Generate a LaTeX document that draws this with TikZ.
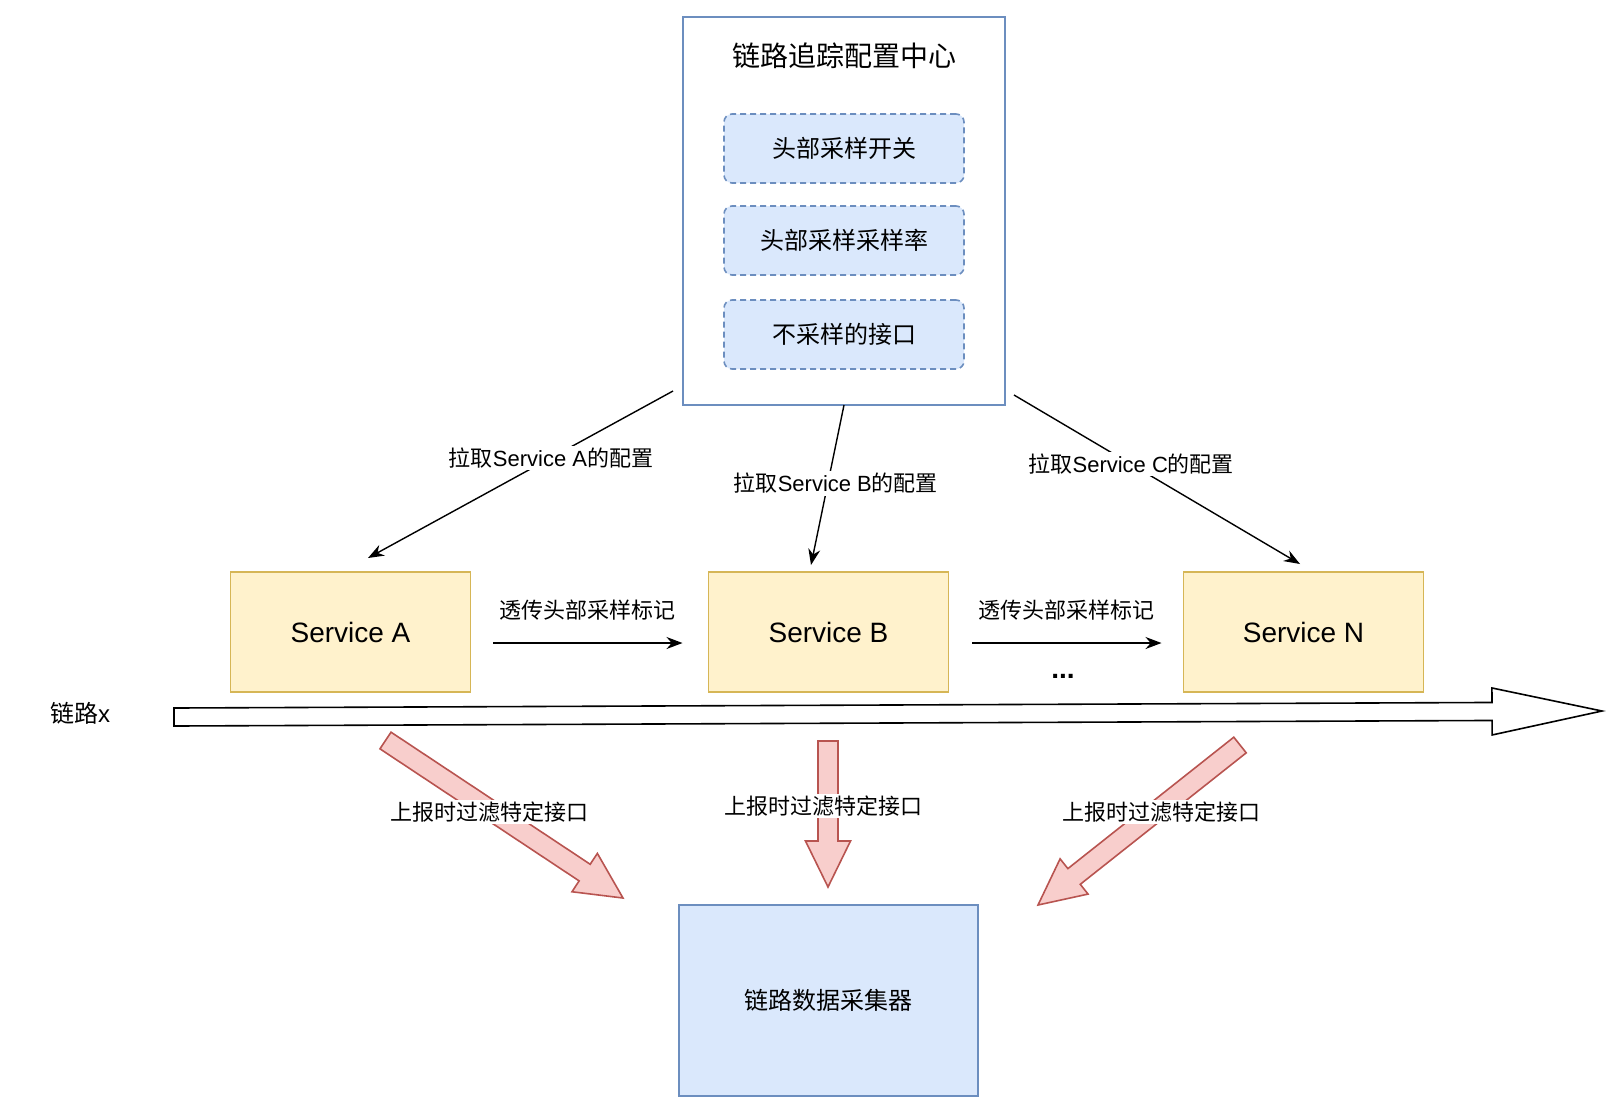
\documentclass[tikz,border=0pt]{standalone}
\usepackage{fontspec}
\setmainfont{Liberation Sans}
\newfontfamily\cjk{Noto Sans CJK SC}
\usetikzlibrary{arrows.meta,calc,positioning}
\definecolor{cfgline}{HTML}{6C8EBF}
\definecolor{cfgfill}{HTML}{DAE8FC}
\definecolor{svcline}{HTML}{D6B656}
\definecolor{svcfill}{HTML}{FFF2CC}
\definecolor{redline}{HTML}{B85450}
\definecolor{redfill}{HTML}{F8CECC}
\tikzset{
    basic/.style   = {draw, rectangle, inner sep=0pt, outer sep=0pt, align=center, line width=0.8pt},
    cfg box/.style = {basic, draw=cfgline, minimum width=161pt, minimum height=194pt},
    opt box/.style = {basic, draw=cfgline, fill=cfgfill, dash pattern=on 3pt off 2pt, rounded corners=4pt,
                      minimum width=120pt, minimum height=34.5pt, font=\fontsize{12}{14}\selectfont},
    svc box/.style = {basic, draw=svcline, fill=svcfill, minimum width=120pt, minimum height=60pt,
                      font=\fontsize{14}{17}\selectfont},
    col box/.style = {basic, draw=cfgline, fill=cfgfill, minimum width=149.5pt, minimum height=95.5pt,
                      font=\fontsize{12}{14}\selectfont},
    lbl/.style     = {fill=white, inner sep=1pt, font=\fontsize{11}{13}\selectfont},
    flow/.style    = {draw=black, fill=white, line width=0.8pt},
    report/.style  = {draw=redline, fill=redfill, line width=0.8pt}
}
% fat arrow: [style] tail, tip, half shaft, half head, head length
\newcommand{\fatarrow}[6][]{%
  \draw[#1] ($(#2)!#4!90:(#3)$)
    -- ($(#3)!#6!(#2)!#4!90:(#3)$)
    -- ($(#3)!#6!(#2)!#5!90:(#3)$)
    -- (#3)
    -- ($(#3)!#6!(#2)!#5!-90:(#3)$)
    -- ($(#3)!#6!(#2)!#4!-90:(#3)$)
    -- ($(#2)!#4!-90:(#3)$) -- cycle;
}

\begin{document}
\begin{tikzpicture}[x=0.5pt, y=-0.5pt, >={Stealth[length=8pt, width=6pt]}, line width=0.7pt]
    \useasboundingbox (0,0) rectangle (1620,1114);

    % config center
    \node[cfg box] (cfg) at (844,211) {};
    \node[font=\fontsize{14}{17}\selectfont] (cfgtitle) at (844,56) {\cjk 链路追踪配置中心};
    \node[opt box] (opt1) at (844,148.5) {\cjk 头部采样开关};
    \node[opt box, below=11.5pt of opt1] (opt2) {\cjk 头部采样采样率};
    \node[opt box, below=12.5pt of opt2] (opt3) {\cjk 不采样的接口};

    % services
    \node[svc box] (svcA) at (350.5,632) {Service A};
    \node[svc box, right=119pt of svcA] (svcB) {Service B};
    \node[svc box, right=117.5pt of svcB] (svcN) {Service N};
    \node[font=\bfseries\fontsize{14}{17}\selectfont] (dots) at (1063,676) {...};

    % collector
    \node[col box] (col) at (828.5,1000.5) {\cjk 链路数据采集器};

    % pull config
    \coordinate (pullA0) at (673,391);
    \coordinate (pullA1) at (368,558);
    \coordinate (pullB1) at (811,565);
    \coordinate (pullN0) at (1014,395);
    \coordinate (pullN1) at (1300,564);
    \draw[->] (pullA0) -- node[lbl, pos=0.4] {{\cjk 拉取}Service A{\cjk 的配置}} (pullA1);
    \draw[->] (cfg.south) -- node[lbl, pos=0.49, xshift=4pt] {{\cjk 拉取}Service B{\cjk 的配置}} (pullB1);
    \draw[->] (pullN0) -- node[lbl, pos=0.41] {{\cjk 拉取}Service C{\cjk 的配置}} (pullN1);

    % pass sampling flag
    \coordinate (passA) at (493,643);
    \coordinate (passB0) at (972,643);
    \draw[->] (passA) -- node[lbl, yshift=16.5pt] {\cjk 透传头部采样标记} ([xshift=-13pt]svcB.west |- passA);
    \draw[->] (passB0) -- node[lbl, yshift=16.5pt] {\cjk 透传头部采样标记} ([xshift=-11pt]svcN.west |- passB0);

    % trace x
    \coordinate (trace0) at (174,717);
    \coordinate (trace1) at (1602,711);
    \fatarrow[flow]{trace0}{trace1}{4.5pt}{11.75pt}{55pt}
    \node[font=\fontsize{12}{14}\selectfont] (tracex) at (80,713) {{\cjk 链路}x};

    % report
    \coordinate (repA0) at (385.5,740.5);
    \coordinate (repA1) at (623,898);
    \coordinate (repB0) at (828,741);
    \coordinate (repB1) at (828,887);
    \coordinate (repN0) at (1240,745);
    \coordinate (repN1) at (1038,905);
    \fatarrow[report]{repA0}{repA1}{5pt}{11.5pt}{23pt}
    \fatarrow[report]{repB0}{repB1}{5pt}{11.25pt}{23pt}
    \fatarrow[report]{repN0}{repN1}{5pt}{11.25pt}{23pt}
    \node[lbl] (repAl) at (489,812) {\cjk 上报时过滤特定接口};
    \node[lbl] (repBl) at (823,806) {\cjk 上报时过滤特定接口};
    \node[lbl] (repNl) at (1161,812) {\cjk 上报时过滤特定接口};
\end{tikzpicture}
\end{document}
